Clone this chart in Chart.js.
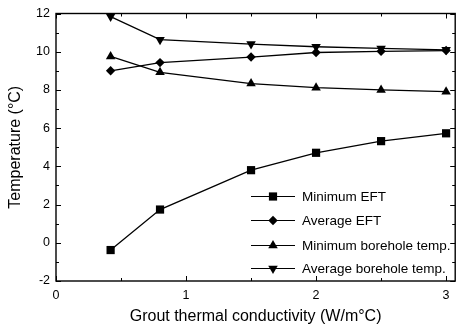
<!DOCTYPE html>
<html>
<head>
<meta charset="utf-8">
<title>Grout thermal conductivity and temperature</title>
<script src="https://cdn.jsdelivr.net/npm/chart.js"></script>
<style>
  html, body { margin: 0; padding: 0; background: #fff; }
  canvas { display: block; }
</style>
</head>
<body>
<canvas id="tempChart" width="461" height="330"></canvas>
<script>
// ----- Data -----
const conductivity = [0.42, 0.8, 1.5, 2.0, 2.5, 3.0];
const minEFT = [-0.38, 1.74, 3.8, 4.71, 5.32, 5.73];
const avgEFT = [9.0, 9.43, 9.72, 9.96, 10.02, 10.06];
const minBorehole = [9.75, 8.92, 8.33, 8.12, 8.0, 7.91];
const avgBorehole = [11.84, 10.63, 10.4, 10.26, 10.17, 10.1];

const seriesNames = ['Minimum EFT', 'Average EFT', 'Minimum borehole temp.', 'Average borehole temp.'];

const xTickValues = [0, 1, 2, 3];
const xMinorTicks = [0.5, 1.5, 2.5];
const yTickValues = [-2, 0, 2, 4, 6, 8, 10, 12];
const yMinorTicks = [-1, 1, 3, 5, 7, 9, 11];

const FONT = '"Liberation Sans", Arial, Helvetica, sans-serif';

// marker look for each series: square, diamond, triangle, inverted triangle
const markers = [
  { pointStyle: 'rect', pointRadius: 5.8, pointRotation: 0 },
  { pointStyle: 'rectRot', pointRadius: 4.7, pointRotation: 0 },
  { pointStyle: 'triangle', pointRadius: 5.5, pointRotation: 0 },
  { pointStyle: 'triangle', pointRadius: 5.5, pointRotation: 180 },
];

const seriesValues = [minEFT, avgEFT, minBorehole, avgBorehole];

const datasets = seriesValues.map((vals, i) => ({
  label: seriesNames[i],
  data: vals.map((v, j) => ({ x: conductivity[j], y: v })),
  borderColor: '#000',
  borderWidth: 1.3,
  backgroundColor: '#000',
  pointBackgroundColor: '#000',
  pointBorderWidth: 0,
  pointStyle: markers[i].pointStyle,
  pointRadius: markers[i].pointRadius,
  pointRotation: markers[i].pointRotation,
  pointHoverRadius: markers[i].pointRadius,
  tension: 0,
  clip: false,
}));

// ----- Box frame with inward ticks on all four sides -----
const frameTicks = {
  id: 'frameTicks',
  afterDatasetsDraw(chart) {
    const { ctx, chartArea: a, scales: { x, y } } = chart;
    ctx.save();
    ctx.strokeStyle = '#000';
    ctx.lineWidth = 1.4;
    ctx.strokeRect(a.left, a.top, a.right - a.left, a.bottom - a.top);

    ctx.lineWidth = 1;
    ctx.beginPath();
    const xTick = (v, len) => {
      const px = Math.round(x.getPixelForValue(v)) + 0.5;
      ctx.moveTo(px, a.bottom); ctx.lineTo(px, a.bottom - len);
      ctx.moveTo(px, a.top); ctx.lineTo(px, a.top + len);
    };
    const yTick = (v, len) => {
      const py = Math.round(y.getPixelForValue(v)) + 0.5;
      ctx.moveTo(a.left, py); ctx.lineTo(a.left + len, py);
      ctx.moveTo(a.right, py); ctx.lineTo(a.right - len, py);
    };
    xTickValues.forEach(v => xTick(v, 5));
    xMinorTicks.forEach(v => xTick(v, 3));
    yTickValues.forEach(v => yTick(v, 5));
    yMinorTicks.forEach(v => yTick(v, 3));
    ctx.stroke();
    ctx.restore();
  }
};

// ----- Legend drawn inside the plot, lower right -----
const insideLegend = {
  id: 'insideLegend',
  afterDraw(chart) {
    const { ctx } = chart;
    const lineX0 = 251, lineX1 = 295, textX = 302;
    const rowY = [196, 220, 245, 268];
    ctx.save();
    ctx.font = '13.5px ' + FONT;
    ctx.textAlign = 'left';
    ctx.textBaseline = 'middle';
    chart.data.datasets.forEach((ds, i) => {
      const yy = rowY[i] + 0.5;
      ctx.strokeStyle = '#000';
      ctx.lineWidth = 1.1;
      ctx.beginPath();
      ctx.moveTo(lineX0, yy);
      ctx.lineTo(lineX1, yy);
      ctx.stroke();
      ctx.fillStyle = '#000';
      Chart.helpers.drawPoint(ctx, {
        pointStyle: ds.pointStyle,
        radius: ds.pointRadius,
        rotation: ds.pointRotation,
        borderWidth: 0,
      }, (lineX0 + lineX1) / 2, yy);
      ctx.fillStyle = '#000';
      ctx.fillText(ds.label, textX, yy + 1);
    });
    ctx.restore();
  }
};

const ctx = document.getElementById('tempChart').getContext('2d');

new Chart(ctx, {
  type: 'line',
  data: { datasets: datasets },
  options: {
    responsive: false,
    animation: false,
    devicePixelRatio: 1,
    layout: { padding: { top: 12, right: 1, left: 0, bottom: 0 } },
    plugins: {
      legend: { display: false },
      tooltip: { enabled: false },
    },
    scales: {
      x: {
        type: 'linear',
        min: 0,
        max: 3.07,
        afterFit(scale) { scale.height = 49; },
        afterBuildTicks(scale) { scale.ticks = xTickValues.map(v => ({ value: v })); },
        grid: { display: false, drawTicks: false },
        border: { display: false },
        ticks: {
          color: '#000',
          padding: 7,
          maxRotation: 0,
          font: { family: FONT, size: 12.5 },
          callback: v => String(v),
        },
        title: {
          display: true,
          text: 'Grout thermal conductivity (W/m°C)',
          color: '#000',
          font: { family: FONT, size: 16 },
          padding: { top: 0, bottom: 4 },
        },
      },
      y: {
        type: 'linear',
        min: -2,
        max: 12,
        afterFit(scale) { scale.width = 56; },
        afterBuildTicks(scale) { scale.ticks = yTickValues.map(v => ({ value: v })); },
        grid: { display: false, drawTicks: false },
        border: { display: false },
        ticks: {
          color: '#000',
          padding: 6,
          font: { family: FONT, size: 12.5 },
          callback: v => String(v),
        },
        title: {
          display: true,
          text: 'Temperature (°C)',
          color: '#000',
          font: { family: FONT, size: 16 },
          padding: { top: 6, bottom: 0 },
        },
      },
    },
  },
  plugins: [frameTicks, insideLegend],
});
</script>
</body>
</html>
